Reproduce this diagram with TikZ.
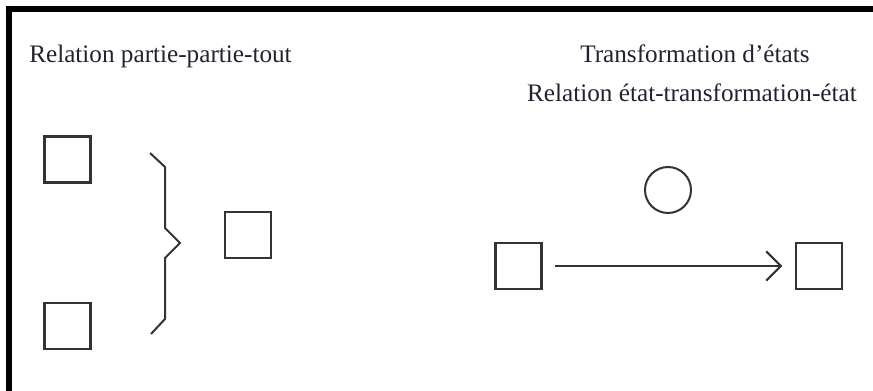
\documentclass[tikz,border=0pt]{standalone}
\usepackage{fontspec}
\setmainfont{Liberation Serif}
\usetikzlibrary{arrows.meta}
\definecolor{linegray}{HTML}{333333}
\definecolor{textc}{HTML}{222233}
\tikzset{
  px/.style={x=0.75pt,y=-0.75pt},
  sq/.style={draw=linegray,line width=1.6pt,rectangle,minimum size=34.5pt,inner sep=0pt},
  circ/.style={draw=linegray,line width=1.5pt,circle,minimum size=34.5pt,inner sep=0pt},
  lbl/.style={text=textc,inner sep=0pt,font=\fontsize{18.9pt}{22pt}\selectfont},
  conn/.style={draw=linegray,line width=1.5pt},
}
\begin{document}
\begin{tikzpicture}[px]
\useasboundingbox (0,0) rectangle (873,391);
\fill[white] (0,0) rectangle (873,391);
% frame
\draw[line width=4.5pt,black] (9,391) -- (9,9) -- (873,9);
% titles
\node[lbl,anchor=base west] (t1) at (29,63) {Relation partie-partie-tout};
\node[lbl,anchor=base west] (t2) at (580,63) {Transformation d’états};
\node[lbl,anchor=base east] (t3) at (857,102) {Relation état-transformation-état};
% left part
\node[sq] (tl) at (67.5,159.5) {};
\node[sq] (bl) at (67.5,326) {};
\node[sq] (mid) at (248,235) {};
\draw[conn,line join=miter] (150,153) -- (165,167) -- (165,228) -- (180,243) -- (165,258) -- (165,319) -- (151,334);
% right part
\node[circ] (c) at (668,190) {};
\node[sq] (s1) at (518.5,266) {};
\node[sq] (s2) at (819,266) {};
\draw[conn,shorten <=9.5pt,shorten >=9.5pt,-{Straight Barb[length=11pt,width=22pt]}] (s1.east) -- (s2.west);
\end{tikzpicture}
\end{document}
